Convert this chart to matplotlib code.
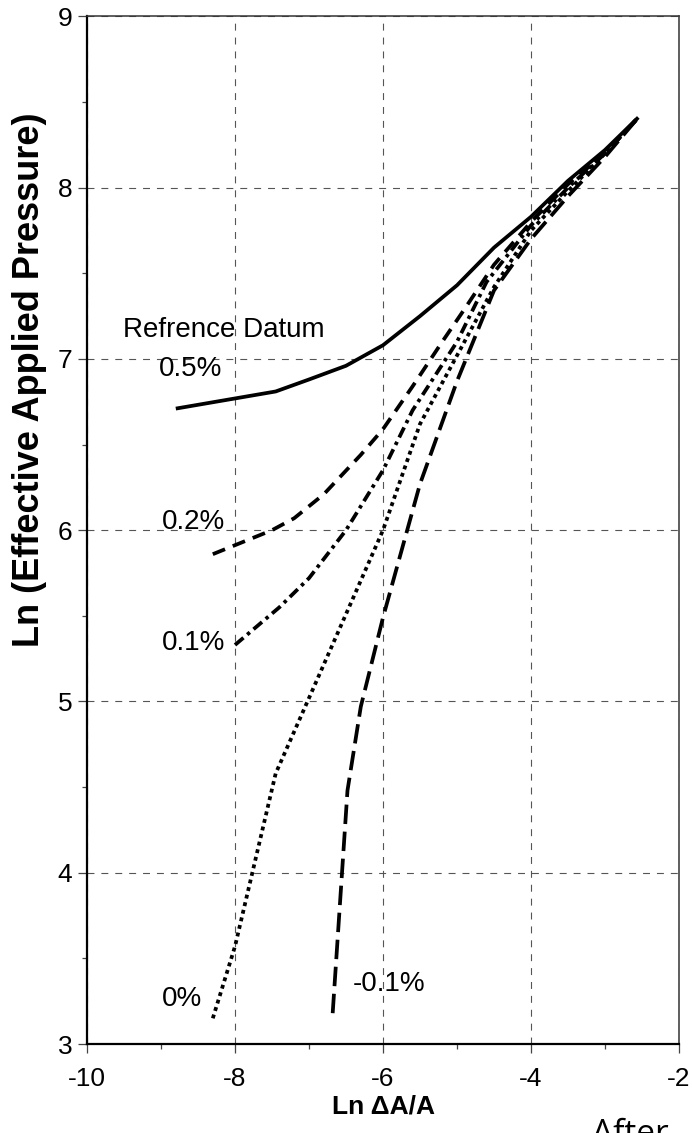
import matplotlib.pyplot as plt
from matplotlib.ticker import MultipleLocator

# Ln(dA/A) against Ln(effective applied pressure) for each reference datum
x_05 = [-8.8, -7.45, -7.0, -6.5, -6.0, -5.5, -5.0, -4.5, -4.0, -3.5, -3.0, -2.55]
y_05 = [6.71, 6.81, 6.88, 6.96, 7.08, 7.25, 7.43, 7.65, 7.83, 8.04, 8.22, 8.41]

x_02 = [-8.3, -7.5, -7.2, -6.8, -6.3, -6.0, -5.6, -5.2, -4.9, -4.5, -4.0, -3.5, -3.0, -2.55]
y_02 = [5.86, 6.0, 6.07, 6.21, 6.44, 6.59, 6.84, 7.1, 7.29, 7.55, 7.8, 8.02, 8.2, 8.41]

x_01 = [-8.0, -7.4, -7.0, -6.5, -6.0, -5.6, -5.3, -5.0, -4.6, -4.0, -3.5, -3.0, -2.55]
y_01 = [5.33, 5.55, 5.72, 6.0, 6.35, 6.7, 6.9, 7.1, 7.45, 7.78, 8.0, 8.2, 8.41]

x_00 = [-8.3, -8.0, -7.45, -7.0, -6.0, -5.5, -5.0, -4.5, -4.0, -3.5, -3.0, -2.55]
y_00 = [3.15, 3.57, 4.58, 5.02, 6.0, 6.62, 7.02, 7.42, 7.75, 7.98, 8.2, 8.41]

x_m01 = [-6.68, -6.48, -6.3, -6.0, -5.5, -5.0, -4.5, -4.0, -3.5, -3.0, -2.55]
y_m01 = [3.18, 4.48, 4.97, 5.49, 6.27, 6.87, 7.4, 7.7, 7.95, 8.18, 8.41]

labels = ['0.5%', '0.2%', '0.1%', '0%', '-0.1%']
label_x = [-9.03, -8.99, -8.99, -8.99, -6.41]
label_y = [6.94, 6.05, 5.34, 3.26, 3.35]


def main():
    plt.rcParams['font.family'] = ['Liberation Sans', 'DejaVu Sans']
    plt.rcParams['lines.scale_dashes'] = False
    plt.rcParams['axes.unicode_minus'] = False
    W, H = 692, 1133
    fig = plt.figure(figsize=(W / 100, H / 100), dpi=100)
    ax = fig.add_axes([87 / W, 1 - 1044 / H, (679 - 87) / W, (1044 - 16.4) / H])

    lw = 2.7
    ax.plot(x_05, y_05, color='black', lw=lw, solid_capstyle='butt')
    ax.plot(x_02, y_02, color='black', lw=lw, linestyle=(0, (9.5, 6.0)))
    ax.plot(x_01, y_01, color='black', lw=lw, linestyle=(0, (8.0, 3.5, 2.5, 3.5)))
    ax.plot(x_00, y_00, color='black', lw=lw, linestyle=(0, (2.8, 2.8)))
    ax.plot(x_m01, y_m01, color='black', lw=lw, linestyle=(0, (14.0, 5.5)))

    ax.text(-9.51, 7.17, 'Refrence Datum', fontsize=20, ha='left', va='center')
    for t, lx, ly in zip(labels, label_x, label_y):
        ax.text(lx, ly, t, fontsize=20, ha='left', va='center')

    ax.set_xlim(-10, -2)
    ax.set_ylim(3, 9)
    ax.xaxis.set_major_locator(MultipleLocator(2))
    ax.xaxis.set_minor_locator(MultipleLocator(1))
    ax.yaxis.set_major_locator(MultipleLocator(1))
    ax.yaxis.set_minor_locator(MultipleLocator(0.5))
    ax.tick_params(which='major', direction='out', length=6.5, width=0.9,
                   color='#444444', labelsize=19)
    ax.tick_params(which='minor', direction='out', length=3.6, width=0.9,
                   color='#444444')
    ax.tick_params(axis='x', which='major', pad=10)
    ax.tick_params(axis='y', which='major', pad=4)

    ax.grid(True, which='major', color='#555555', lw=0.8, linestyle=(0, (5, 5)))

    for side in ['left', 'bottom']:
        ax.spines[side].set_linewidth(1.6)
        ax.spines[side].set_color('black')
    for side in ['top', 'right']:
        ax.spines[side].set_linewidth(1.1)
        ax.spines[side].set_color('#333333')

    fig.text(30 / W, 1 - 380 / H, 'Ln (Effective Applied Pressure)', rotation=90,
             fontsize=26, fontweight='bold', ha='center', va='center')
    fig.text(383 / W, 1 - 1106 / H, 'Ln \u0394A/A', fontsize=19, fontweight='bold',
             ha='center', va='center')
    fig.text(592 / W, 1 - 1118 / H, 'After', fontsize=24, family=['Open Sans', 'DejaVu Sans'],
             ha='left', va='top')

    fig.savefig('out.png', dpi=100)


if __name__ == "__main__":
    main()
